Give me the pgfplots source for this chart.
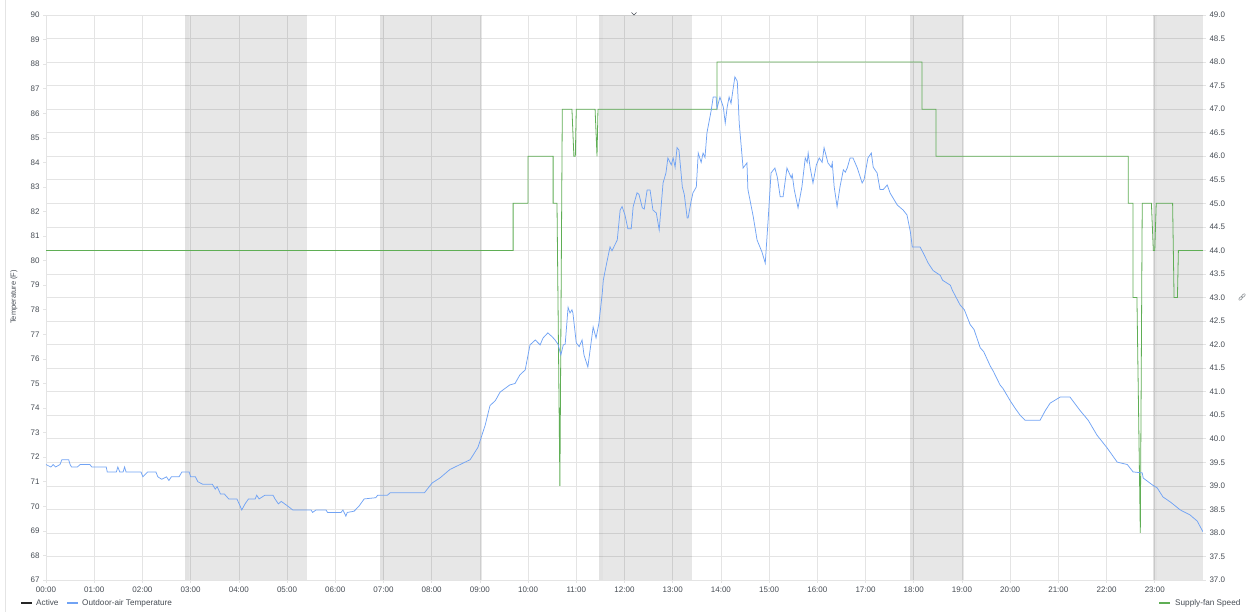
\documentclass[border=0pt]{standalone}
\usepackage{fontspec}
\setmainfont{Liberation Sans}
\usepackage{pgfplots}
\pgfplotsset{compat=1.18}
\definecolor{tempblue}{HTML}{71A3F4}
\definecolor{fangreen}{HTML}{5FAE55}
\definecolor{gridc}{HTML}{E4E4E4}
\definecolor{txt}{HTML}{464C54}

\newcommand\band[2]{%
  \fill[black, fill opacity=0.095] (#1,37) rectangle (#2,49);
  \fill[black, fill opacity=0.02] (#1,37) rectangle ([xshift=4pt]#1,49);}

\begin{document}
\begin{tikzpicture}[x=1pt,y=1pt]
\path[use as bounding box] (0,0) rectangle (1255,612);
\draw[gridc, line width=0.8pt] (5,0) -- (5,612);

% right axis: fan speed, carries the grid and the shaded bands
\begin{axis}[
  at={(46pt,32pt)}, anchor=south west, scale only axis,
  width=1157pt, height=565pt,
  xmin=0, xmax=24, ymin=37, ymax=49,
  axis x line*=bottom, axis y line*=right,
  axis line style={draw=none},
  xtick={0,...,23},
  xticklabels={00:00,01:00,02:00,03:00,04:00,05:00,06:00,07:00,08:00,09:00,10:00,11:00,
               12:00,13:00,14:00,15:00,16:00,17:00,18:00,19:00,20:00,21:00,22:00,23:00},
  ytick={37,37.5,...,49},
  yticklabel style={/pgf/number format/fixed, /pgf/number format/fixed zerofill,
                    /pgf/number format/precision=1},
  /pgf/number format/assume math mode=true,
  grid=major, major grid style={gridc, line width=0.6pt},
  tick style={gridc, line width=0.6pt}, major tick length=3pt, tick align=outside,
  ticklabel style={font=\fontsize{8}{9}\selectfont, text=txt},
]
\band{2.88}{5.41}
\band{6.92}{9.04}
\band{11.48}{13.41}
\band{17.93}{19.05}
\band{22.96}{24}
\addplot[fangreen, line width=0.8pt, no marks] coordinates {
(0,44)(9.69,44)(9.69,45)(10.0,45)(10.0,46)(10.52,46)(10.52,45)(10.6,45)(10.66,39)
(10.71,47)(10.91,47)(10.95,46)(10.98,46)(11.0,47)(11.39,47)(11.43,46)(11.45,47)
(13.92,47)(13.92,48)(18.17,48)(18.17,47)(18.46,47)(18.46,46)(22.45,46)(22.45,45)
(22.55,45)(22.55,43)(22.63,43)(22.70,38)(22.74,45)(22.93,45)(22.97,44)(23.0,44)
(23.03,45)(23.37,45)(23.40,43)(23.47,43)(23.49,44)(24,44)
};
\end{axis}

% left axis: outdoor-air temperature
\begin{axis}[
  at={(46pt,32pt)}, anchor=south west, scale only axis,
  width=1157pt, height=565pt,
  xmin=0, xmax=24, ymin=67, ymax=90,
  axis y line*=left, axis x line=none,
  axis line style={draw=none},
  ytick={67,...,90},
  /pgf/number format/assume math mode=true,
  tick style={gridc, line width=0.6pt}, major tick length=3pt, tick align=outside,
  ticklabel style={font=\fontsize{8}{9}\selectfont, text=txt},
]
\addplot[tempblue, line width=0.75pt, no marks] coordinates {
(0,71.7)(0.1,71.6)(0.15,71.7)(0.2,71.6)(0.29,71.7)(0.33,71.9)(0.47,71.9)(0.5,71.7)
(0.53,71.6)(0.65,71.6)(0.71,71.7)(0.91,71.7)(0.95,71.6)(1.25,71.6)(1.27,71.4)(1.46,71.4)
(1.49,71.6)(1.53,71.4)(1.6,71.4)(1.63,71.6)(1.66,71.4)(1.97,71.4)(2.01,71.2)(2.06,71.3)
(2.11,71.4)(2.28,71.4)(2.32,71.2)(2.4,71.1)(2.5,71.2)(2.55,71.05)(2.6,71.2)(2.76,71.2)
(2.82,71.4)(2.97,71.4)(3.0,71.2)(3.1,71.2)(3.15,71.0)(3.25,70.9)(3.45,70.9)(3.51,70.7)
(3.55,70.8)(3.62,70.5)(3.7,70.5)(3.79,70.3)(3.96,70.3)(4.03,70.0)(4.06,69.85)(4.13,70.1)
(4.2,70.3)(4.34,70.3)(4.37,70.45)(4.42,70.3)(4.54,70.45)(4.71,70.45)(4.75,70.3)(4.82,70.1)
(4.88,70.2)(4.95,70.1)(5.02,70.0)(5.12,69.85)(5.5,69.85)(5.53,69.75)(5.6,69.85)(5.81,69.85)
(5.84,69.75)(6.12,69.75)(6.16,69.85)(6.22,69.6)(6.25,69.75)(6.39,69.8)(6.49,70.0)(6.6,70.3)
(6.84,70.35)(6.88,70.45)(7.08,70.45)(7.14,70.55)(7.85,70.55)(8.01,70.95)(8.17,71.15)
(8.38,71.5)(8.59,71.7)(8.8,71.9)(8.96,72.4)(9.11,73.3)(9.21,74.1)(9.32,74.3)(9.42,74.65)
(9.62,74.94)(9.73,75.0)(9.83,75.35)(9.94,75.55)(10.04,76.57)(10.15,76.77)(10.25,76.57)
(10.31,76.85)(10.41,77.06)(10.5,76.9)(10.56,76.77)(10.62,76.6)(10.68,76.16)(10.73,76.57)
(10.77,76.6)(10.83,78.1)(10.87,77.87)(10.91,78.0)(10.93,77.87)(11.0,76.65)(11.06,76.5)
(11.12,76.77)(11.16,76.16)(11.24,75.67)(11.35,77.3)(11.41,76.85)(11.47,77.46)(11.54,78.7)
(11.56,79.2)(11.62,79.8)(11.70,80.56)(11.74,80.4)(11.78,80.56)(11.85,80.84)(11.91,82.06)
(11.95,82.2)(12.01,81.86)(12.07,81.3)(12.14,81.3)(12.18,82.2)(12.26,82.76)(12.3,82.7)
(12.37,82.15)(12.41,82.1)(12.47,82.88)(12.53,82.88)(12.59,82.06)(12.66,81.94)(12.72,81.25)
(12.8,83.16)(12.86,83.57)(12.9,84.18)(12.97,83.9)(13.01,84.18)(13.05,83.8)(13.09,84.6)
(13.13,84.5)(13.2,83.0)(13.24,82.7)(13.3,81.74)(13.32,81.74)(13.38,82.4)(13.42,82.76)
(13.49,83.0)(13.53,84.38)(13.59,84.0)(13.63,84.38)(13.67,84.2)(13.71,85.2)(13.8,86.13)
(13.84,86.66)(13.9,86.66)(13.92,86.2)(13.98,86.66)(14.05,86.25)(14.09,85.6)(14.13,86.25)
(14.17,86.66)(14.21,86.4)(14.25,86.95)(14.29,87.48)(14.34,87.3)(14.38,85.6)(14.46,83.77)
(14.54,83.98)(14.56,82.9)(14.67,81.8)(14.75,80.84)(14.85,80.36)(14.92,79.9)(14.98,81.66)
(15.04,83.57)(15.12,83.77)(15.17,83.4)(15.23,82.6)(15.29,82.6)(15.37,83.77)(15.46,83.37)
(15.48,83.5)(15.52,82.9)(15.6,82.15)(15.68,83.0)(15.75,84.18)(15.79,84.0)(15.81,84.38)
(15.85,83.8)(15.91,83.16)(15.98,83.9)(16.04,84.18)(16.1,84.0)(16.14,84.6)(16.22,83.98)
(16.29,83.8)(16.31,83.98)(16.35,83.0)(16.41,82.2)(16.47,83.0)(16.54,83.7)(16.58,83.6)
(16.62,83.77)(16.68,84.18)(16.74,84.18)(16.83,83.77)(16.93,83.16)(16.97,83.3)(17.05,84.18)
(17.12,84.38)(17.16,83.8)(17.24,83.57)(17.3,82.9)(17.37,82.9)(17.45,83.08)(17.51,82.75)
(17.66,82.26)(17.78,82.06)(17.86,81.86)(17.93,81.17)(17.97,80.56)(18.13,80.56)(18.2,80.3)
(18.3,79.9)(18.4,79.6)(18.55,79.4)(18.6,79.2)(18.76,79.0)(18.8,78.8)(18.96,78.2)(19.05,78.0)
(19.17,77.4)(19.25,77.2)(19.38,76.45)(19.45,76.3)(19.59,75.7)(19.65,75.5)(19.79,74.94)
(19.85,74.8)(20.0,74.3)(20.1,74.0)(20.21,73.7)(20.31,73.5)(20.62,73.5)(20.73,73.9)
(20.83,74.2)(21.04,74.45)(21.24,74.45)(21.45,73.9)(21.62,73.5)(21.8,72.9)(22.01,72.38)
(22.22,71.8)(22.43,71.7)(22.55,71.4)(22.74,71.36)(22.76,71.15)(22.95,70.87)(23.05,70.75)
(23.17,70.38)(23.32,70.18)(23.53,69.85)(23.73,69.65)(23.88,69.4)(24.0,68.96)
};
\end{axis}

\node[rotate=90, font=\fontsize{7.5}{9}\selectfont, text=txt] at (14,315) {Temperature (F)};
% top chevron
\draw[txt, line width=0.6pt] (631.5,599.5) -- (634,597) -- (636.5,599.5);
% link icon on the right axis
\draw[txt!70, line width=0.5pt, rotate around={45:(1242,315)}] (1240,315) ellipse (2.2 and 1.2) (1244,315) ellipse (2.2 and 1.2);
% legend
\draw[black!85, line width=2.5pt] (21,9) -- (32,9);
\node[anchor=west, font=\fontsize{8.2}{9}\selectfont, text=txt, inner sep=0pt] at (36,9) {Active};
\draw[tempblue, line width=2.5pt] (67,9) -- (78,9);
\node[anchor=west, font=\fontsize{8.2}{9}\selectfont, text=txt, inner sep=0pt] at (82,9) {Outdoor-air Temperature};
\draw[fangreen, line width=2.5pt] (1159,9) -- (1170,9);
\node[anchor=west, font=\fontsize{8.2}{9}\selectfont, text=txt, inner sep=0pt] at (1175,9) {Supply-fan Speed};
\end{tikzpicture}
\end{document}
